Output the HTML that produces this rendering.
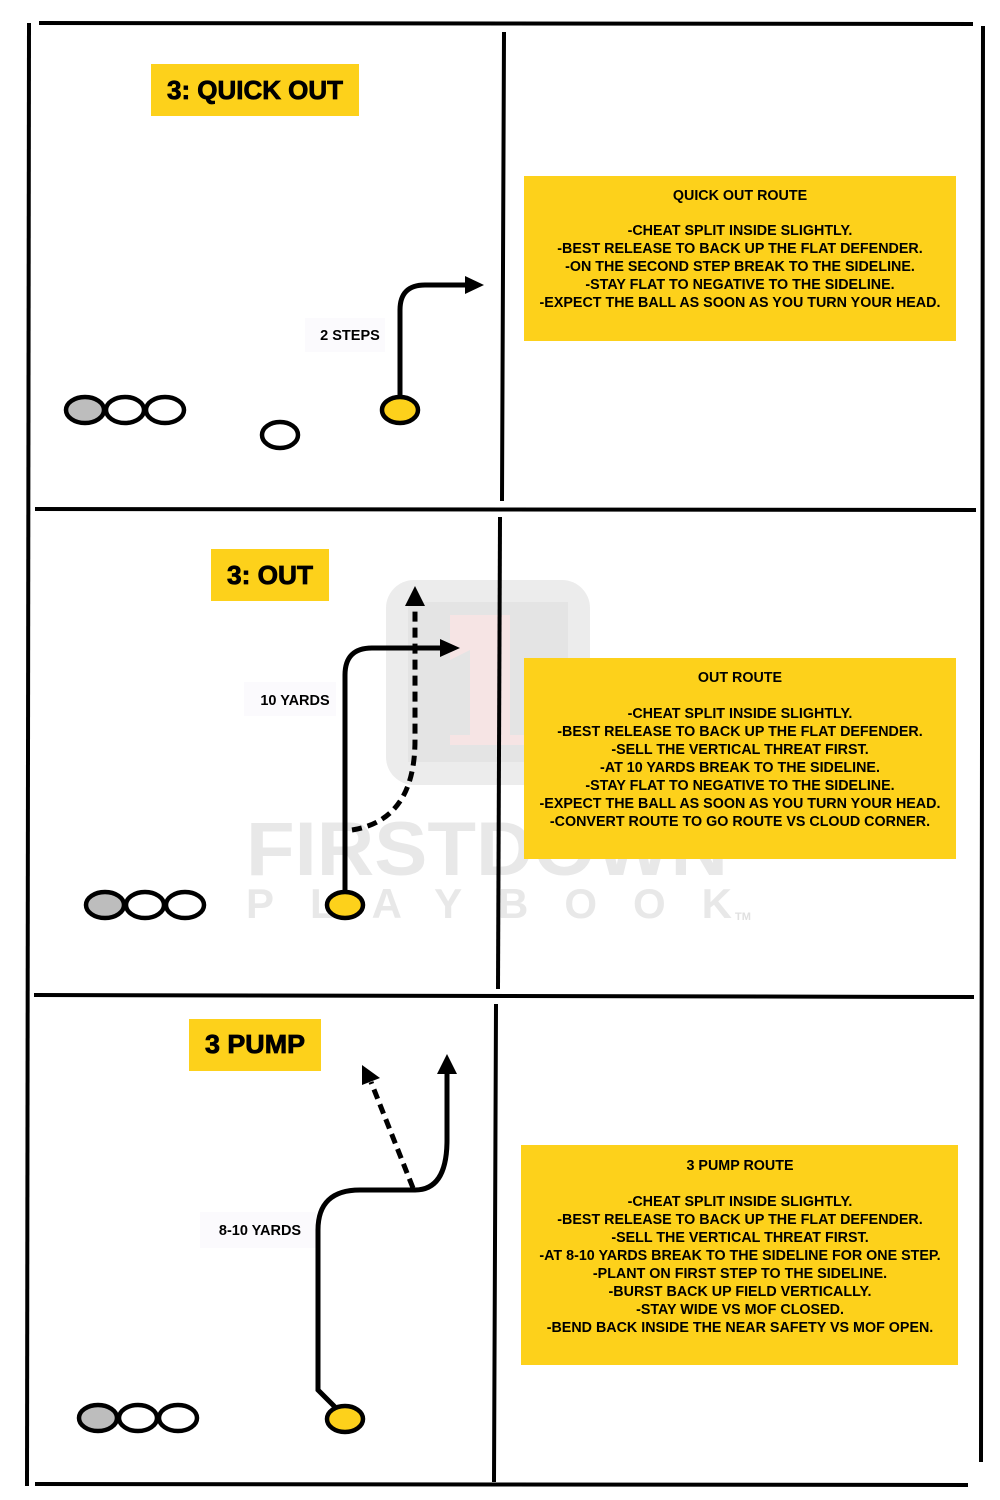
<!DOCTYPE html>
<html><head><meta charset="utf-8"><style>
html,body{margin:0;padding:0;background:#fff;}
svg{display:block;}
.t{font-family:"Liberation Sans",sans-serif;font-weight:bold;}
</style></head><body>
<svg width="1000" height="1500" viewBox="0 0 1000 1500" xmlns="http://www.w3.org/2000/svg">
<!-- watermark -->
<rect x="386" y="580" width="204" height="205" rx="28" fill="#ececec"/>
<rect x="408" y="602" width="160" height="160" fill="#e4e4e4"/>
<path d="M450 615 L510 615 L510 735 L530 735 L530 745 L450 745 L450 735 L470 735 L470 650 L450 660 Z" fill="#f6e4e4"/>
<text x="246" y="875" class="t" font-size="76" fill="#e8e8e8" textLength="482" lengthAdjust="spacingAndGlyphs">FIRSTDOWN</text>
<text x="246" y="918" class="t" font-size="42" fill="#e8e8e8" textLength="486" lengthAdjust="spacing">PLAYBOOK</text>
<text x="735" y="920" class="t" font-size="11" fill="#e0e0e0">TM</text>

<!-- frame lines -->
<g stroke="#000" stroke-width="4" fill="none" stroke-linecap="square">
<line x1="41" y1="23" x2="971" y2="24"/>
<line x1="29" y1="25" x2="27" y2="1484"/>
<line x1="983" y1="28" x2="981" y2="1460"/>
<line x1="37" y1="1484" x2="966" y2="1485"/>
<line x1="37" y1="509" x2="974" y2="510"/>
<line x1="36" y1="995" x2="972" y2="997"/>
<line x1="504" y1="34" x2="502" y2="499"/>
<line x1="500" y1="519" x2="498" y2="987"/>
<line x1="496" y1="1006" x2="494" y2="1480"/>
</g>

<!-- titles -->
<rect x="151" y="64" width="208" height="52" fill="#FDD11B"/>
<text x="255" y="99" class="t" font-size="26" text-anchor="middle" stroke="#000" stroke-width="0.8" textLength="176" lengthAdjust="spacingAndGlyphs">3: QUICK OUT</text>
<rect x="211" y="549" width="118" height="52" fill="#FDD11B"/>
<text x="270" y="584" class="t" font-size="26" text-anchor="middle" stroke="#000" stroke-width="0.8" textLength="86" lengthAdjust="spacingAndGlyphs">3: OUT</text>
<rect x="189" y="1019" width="132" height="52" fill="#FDD11B"/>
<text x="255" y="1053" class="t" font-size="26" text-anchor="middle" stroke="#000" stroke-width="0.8" textLength="100" lengthAdjust="spacingAndGlyphs">3 PUMP</text>

<!-- info boxes -->
<rect x="524" y="176" width="432" height="165" fill="#FDD11B"/>
<g class="t" font-size="14.3" text-anchor="middle">
<text x="740" y="200">QUICK OUT ROUTE</text>
<text x="740" y="235">-CHEAT SPLIT INSIDE SLIGHTLY.</text>
<text x="740" y="253">-BEST RELEASE TO BACK UP THE FLAT DEFENDER.</text>
<text x="740" y="271">-ON THE SECOND STEP BREAK TO THE SIDELINE.</text>
<text x="740" y="289">-STAY FLAT TO NEGATIVE TO THE SIDELINE.</text>
<text x="740" y="307">-EXPECT THE BALL AS SOON AS YOU TURN YOUR HEAD.</text>
</g>
<rect x="524" y="658" width="432" height="201" fill="#FDD11B"/>
<g class="t" font-size="14.3" text-anchor="middle">
<text x="740" y="682">OUT ROUTE</text>
<text x="740" y="718">-CHEAT SPLIT INSIDE SLIGHTLY.</text>
<text x="740" y="736">-BEST RELEASE TO BACK UP THE FLAT DEFENDER.</text>
<text x="740" y="754">-SELL THE VERTICAL THREAT FIRST.</text>
<text x="740" y="772">-AT 10 YARDS BREAK TO THE SIDELINE.</text>
<text x="740" y="790">-STAY FLAT TO NEGATIVE TO THE SIDELINE.</text>
<text x="740" y="808">-EXPECT THE BALL AS SOON AS YOU TURN YOUR HEAD.</text>
<text x="740" y="826">-CONVERT ROUTE TO GO ROUTE VS CLOUD CORNER.</text>
</g>
<rect x="521" y="1145" width="437" height="220" fill="#FDD11B"/>
<g class="t" font-size="14.3" text-anchor="middle">
<text x="740" y="1170">3 PUMP ROUTE</text>
<text x="740" y="1206">-CHEAT SPLIT INSIDE SLIGHTLY.</text>
<text x="740" y="1224">-BEST RELEASE TO BACK UP THE FLAT DEFENDER.</text>
<text x="740" y="1242">-SELL THE VERTICAL THREAT FIRST.</text>
<text x="740" y="1260">-AT 8-10 YARDS BREAK TO THE SIDELINE FOR ONE STEP.</text>
<text x="740" y="1278">-PLANT ON FIRST STEP TO THE SIDELINE.</text>
<text x="740" y="1296">-BURST BACK UP FIELD VERTICALLY.</text>
<text x="740" y="1314">-STAY WIDE VS MOF CLOSED.</text>
<text x="740" y="1332">-BEND BACK INSIDE THE NEAR SAFETY VS MOF OPEN.</text>
</g>

<!-- labels -->
<rect x="305" y="318" width="80" height="34" fill="#fbfafd"/>
<text x="350" y="340" class="t" font-size="14.5" text-anchor="middle">2 STEPS</text>
<rect x="244" y="682" width="92" height="34" fill="#fbfafd"/>
<text x="295" y="705" class="t" font-size="14.5" text-anchor="middle">10 YARDS</text>
<rect x="200" y="1212" width="116" height="36" fill="#fbfafd"/>
<text x="260" y="1235" class="t" font-size="14.5" text-anchor="middle">8-10 YARDS</text>

<!-- routes -->
<g stroke="#000" stroke-width="5" fill="none">
<path d="M400 397 L400 310 Q400 285 425 285 L467 285"/>
<path d="M345 892 L345 675 Q345 648 372 648 L442 648"/>
<path d="M352 830 Q415 820 415 740 L415 605" stroke-dasharray="10 6"/>
<path d="M335 1407 L318 1390 L318 1230 Q318 1190 360 1190 L415 1190 Q447 1190 447 1140 L447 1072"/>
<path d="M413 1188 L371 1082" stroke-dasharray="10 6"/>
</g>
<g fill="#000">
<polygon points="465,276 484,285 465,294"/>
<polygon points="440,639 460,648 440,657"/>
<polygon points="405,606 415,586 425,606"/>
<polygon points="437,1074 447,1054 457,1074"/>
<polygon points="362,1065 380,1078 362,1085"/>
</g>

<!-- players -->
<g stroke="#000" stroke-width="4.5">
<ellipse cx="400" cy="410" rx="18" ry="13" fill="#FDD11B"/>
<ellipse cx="85" cy="410" rx="19" ry="13" fill="#bdbdbd"/>
<ellipse cx="125" cy="410" rx="19" ry="13" fill="#fff"/>
<ellipse cx="165" cy="410" rx="19" ry="13" fill="#fff"/>
<ellipse cx="280" cy="435" rx="18" ry="13" fill="#fff"/>

<ellipse cx="345" cy="905" rx="18" ry="13" fill="#FDD11B"/>
<ellipse cx="105" cy="905" rx="19" ry="13" fill="#bdbdbd"/>
<ellipse cx="145" cy="905" rx="19" ry="13" fill="#fff"/>
<ellipse cx="185" cy="905" rx="19" ry="13" fill="#fff"/>

<ellipse cx="345" cy="1419" rx="18" ry="13" fill="#FDD11B"/>
<ellipse cx="98" cy="1418" rx="19" ry="13" fill="#bdbdbd"/>
<ellipse cx="138" cy="1418" rx="19" ry="13" fill="#fff"/>
<ellipse cx="178" cy="1418" rx="19" ry="13" fill="#fff"/>
</g>
</svg>
</body></html>
